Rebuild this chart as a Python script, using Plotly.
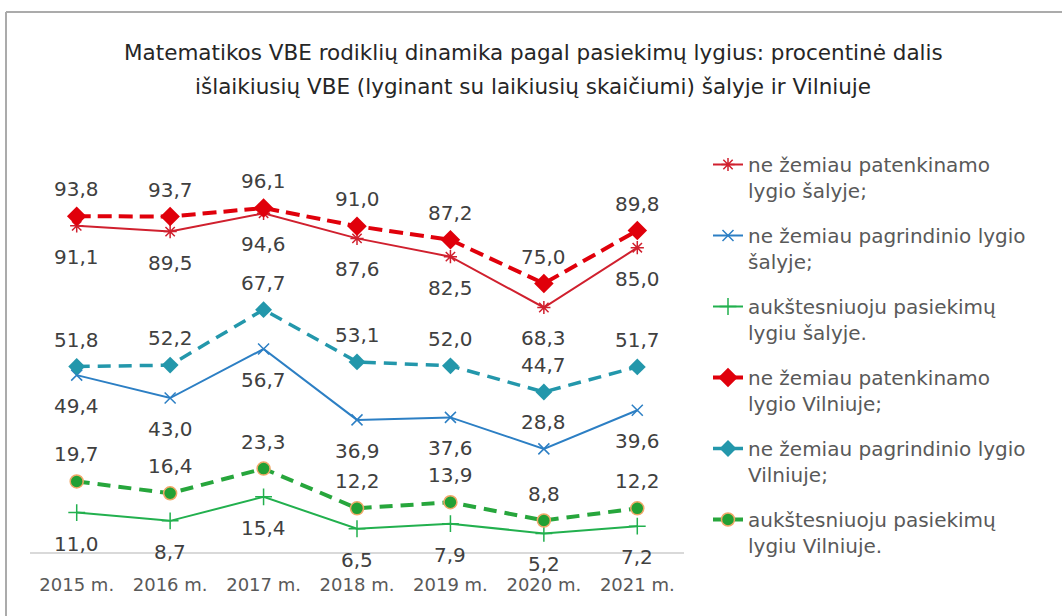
import plotly.graph_objects as go

years = ["2015 m.", "2016 m.", "2017 m.", "2018 m.", "2019 m.", "2020 m.", "2021 m."]
country_pat = [91.1, 89.5, 94.6, 87.6, 82.5, 68.3, 85.0]
country_pag = [49.4, 43.0, 56.7, 36.9, 37.6, 28.8, 39.6]
country_auk = [11.0, 8.7, 15.4, 6.5, 7.9, 5.2, 7.2]
vilnius_pat = [93.8, 93.7, 96.1, 91.0, 87.2, 75.0, 89.8]
vilnius_pag = [51.8, 52.2, 67.7, 53.1, 52.0, 44.7, 51.7]
vilnius_auk = [19.7, 16.4, 23.3, 12.2, 13.9, 8.8, 12.2]

names = [
    "ne žemiau patenkinamo<br>lygio šalyje;",
    "ne žemiau pagrindinio lygio<br>šalyje;",
    "aukštesniuoju pasiekimų<br>lygiu šalyje.",
    "ne žemiau patenkinamo<br>lygio Vilniuje;",
    "ne žemiau pagrindinio lygio<br>Vilniuje;",
    "aukštesniuoju pasiekimų<br>lygiu Vilniuje.",
]

FONT = "DejaVu Sans"
series = [
    dict(y=country_pat, color="#D0202E", width=2, dash="solid",
         marker=dict(symbol="asterisk-open", size=11, line=dict(color="#D0202E", width=1.5)),
         label="below", overrides={}),
    dict(y=country_pag, color="#2C7FC4", width=2, dash="solid",
         marker=dict(symbol="x-thin-open", size=11, line=dict(color="#2C7FC4", width=1.5)),
         label="below", overrides={5: "above"}),
    dict(y=country_auk, color="#22B04E", width=2, dash="solid",
         marker=dict(symbol="cross-thin-open", size=12, line=dict(color="#22B04E", width=1.5)),
         label="below", overrides={}),
    dict(y=vilnius_pat, color="#E0000B", width=4, dash="14px,7px",
         marker=dict(symbol="diamond", size=15, color="#E0000B"),
         label="above", overrides={}),
    dict(y=vilnius_pag, color="#2397AB", width=3.5, dash="13px,8px",
         marker=dict(symbol="diamond", size=13, color="#2397AB"),
         label="above", overrides={}),
    dict(y=vilnius_auk, color="#27A63C", width=4, dash="13px,8px",
         marker=dict(symbol="circle", size=13, color="#22A034",
                     line=dict(color="#F0A868", width=1.5)),
         label="above", overrides={}),
]

fig = go.Figure()
annotations = []
for i, s in enumerate(series):
    fig.add_trace(go.Scatter(
        x=years, y=s["y"], mode="lines+markers", name=names[i],
        legendgroup=f"g{i}",
        line=dict(color=s["color"], width=s["width"], dash=s["dash"]),
        marker=s["marker"], hoverinfo="skip",
    ))
    for j, v in enumerate(s["y"]):
        pos = s["overrides"].get(j, s["label"])
        annotations.append(dict(
            x=years[j], y=v, xref="x", yref="y",
            text=f"{v:.1f}".replace(".", ","), showarrow=False,
            yshift=27 if pos == "above" else -31,
            font=dict(family=FONT, size=20, color="#404040"),
            xanchor="center", yanchor="middle",
        ))

L, R, T, B = 30, 378, 100, 64
PW, PH = 1062 - L - R, 616 - T - B
PX_PER_UNIT = 3.58

def px(xp):
    return (xp - L) / PW

def py(yp):
    return (616 - B - yp) / PH

annotations.append(dict(
    x=px(533), y=py(52), xref="paper", yref="paper", showarrow=False,
    text="Matematikos VBE rodiklių dinamika pagal pasiekimų lygius: procentinė dalis",
    font=dict(family=FONT, size=21.5, color="#262626"), xanchor="center", yanchor="middle"))
annotations.append(dict(
    x=px(533), y=py(86), xref="paper", yref="paper", showarrow=False,
    text="išlaikiusių VBE (lyginant su laikiusių skaičiumi) šalyje ir Vilniuje",
    font=dict(family=FONT, size=21.5, color="#262626"), xanchor="center", yanchor="middle"))

fig.update_layout(
    width=1062, height=616,
    margin=dict(l=L, r=R, t=T, b=B),
    paper_bgcolor="white", plot_bgcolor="white",
    annotations=annotations,
    showlegend=True,
    legend=dict(
        x=px(708), y=py(145), xanchor="left", yanchor="top",
        font=dict(family=FONT, size=20, color="#595959"),
        traceorder="grouped", tracegroupgap=16, valign="top",
        bgcolor="rgba(0,0,0,0)",
    ),
    shapes=[
        dict(type="line", xref="paper", yref="paper", x0=px(6), x1=px(1070),
             y0=py(12), y1=py(12), line=dict(color="#ABABAB", width=2)),
        dict(type="line", xref="paper", yref="paper", x0=px(6), x1=px(6),
             y0=py(12), y1=py(630), line=dict(color="#ABABAB", width=2)),
    ],
)
fig.update_xaxes(
    type="category", range=[-0.5, 6.5], showgrid=False,
    showline=True, linecolor="#D9D9D9", linewidth=1.5,
    ticks="", ticklabelstandoff=16,
    tickfont=dict(family=FONT, size=18, color="#595959"),
    zeroline=False,
)
fig.update_yaxes(range=[0, PH / PX_PER_UNIT], visible=False, showgrid=False, zeroline=False)

fig.write_html("out.html", config={"displayModeBar": False},
               post_script="document.body.style.margin='0px';")
